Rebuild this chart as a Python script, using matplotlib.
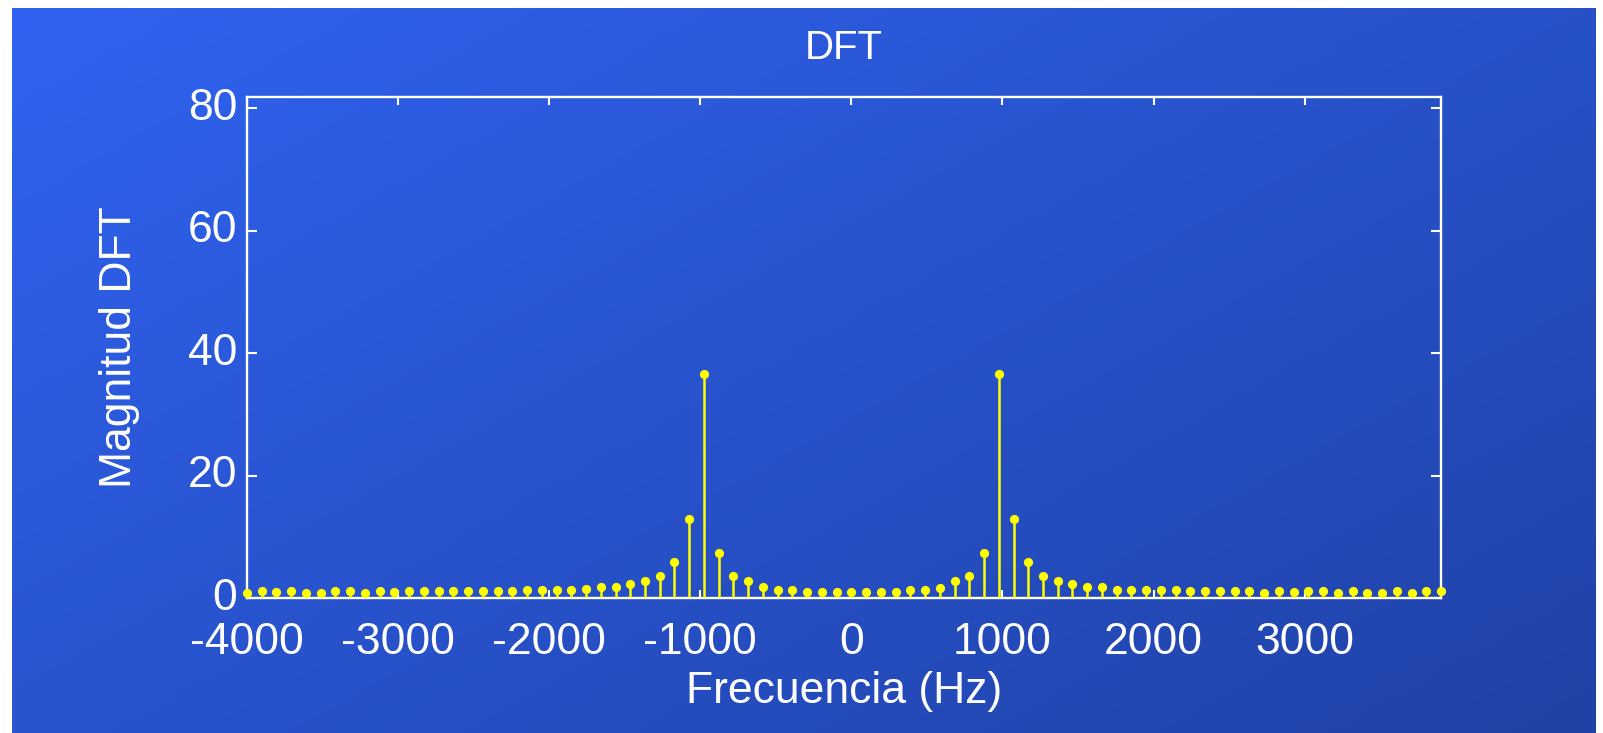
import numpy as np
import matplotlib
matplotlib.use("Agg")
import matplotlib.pyplot as plt

plt.rcParams['font.family'] = ['Liberation Sans', 'DejaVu Sans']
plt.rcParams['axes.unicode_minus'] = False

# ---- data ----
fs = 8000
N = 82
magnitude = [
    0.85, 1.2, 0.9, 1.2, 0.85, 0.85, 1.2, 1.2, 0.85, 1.2,
    0.9, 1.2, 1.2, 1.2, 1.2, 1.2, 1.2, 1.2, 1.2, 1.3,
    1.3, 1.3, 1.3, 1.4, 1.8, 1.8, 2.3, 2.8, 3.6, 5.9,
    12.9, 36.5, 7.35, 3.6, 2.8, 1.8, 1.35, 1.35, 1.0, 1.0,
    1.0, 1.0, 1.0, 1.0, 1.0, 1.3, 1.3, 1.7, 2.8, 3.6,
    7.35, 36.5, 12.9, 5.9, 3.6, 2.8, 2.3, 1.8, 1.8, 1.35,
    1.35, 1.35, 1.3, 1.3, 1.2, 1.2, 1.2, 1.2, 1.2, 0.85,
    1.2, 0.9, 1.2, 1.2, 0.85, 1.2, 0.85, 0.85, 1.2, 0.85,
    1.2, 1.2,
]
freq = (np.arange(N) - N // 2) * fs / N
xticks = [-4000, -3000, -2000, -1000, 0, 1000, 2000, 3000]
yticks = [0, 20, 40, 60, 80]
title = "DFT"
xlabel = "Frecuencia (Hz)"
ylabel = "Magnitud DFT"

W, H = 1603, 733
fig = plt.figure(figsize=(W / 100, H / 100), dpi=100)
fig.patch.set_facecolor('white')

# gradient background
bg = fig.add_axes([12 / W, 0, 1584 / W, 725 / H])
c0 = np.array([48, 99, 241]) / 255.0
c1 = np.array([32, 66, 166]) / 255.0
gy, gx = np.mgrid[0:1:300j, 0:1:600j]
t = (gx * 0.55 + gy * 0.45)
img = c0[None, None, :] * (1 - t[..., None]) + c1[None, None, :] * t[..., None]
bg.imshow(img, aspect='auto', extent=[0, 1, 0, 1], origin='upper')
bg.set_axis_off()
bg.set_zorder(-10)

# main axes
ax = fig.add_axes([247 / W, (H - 598) / H, (1441 - 247) / W, (598 - 97) / H])
ax.set_facecolor('none')

yellow = '#FFFF00'
ml, sl, bl = ax.stem(freq, magnitude, basefmt=' ')
plt.setp(sl, color=yellow, linewidth=1.8)
plt.setp(ml, color=yellow, marker='o', markersize=6.6, markeredgewidth=0)
ml.set_clip_on(False)
ml.set_zorder(5)
sl.set_zorder(4)
bl.set_visible(False)

ax.set_xlim(freq[0], freq[-1])
ax.set_ylim(0, 81.8)
ax.set_xticks(xticks)
ax.set_yticks(yticks)

for s in ax.spines.values():
    s.set_color('white')
    s.set_linewidth(1.7)

ax.tick_params(axis='both', direction='in', colors='white', width=1.5,
               top=True, right=True, labelsize=32)
ax.tick_params(axis='x', length=6, pad=17)
ax.tick_params(axis='y', length=7, pad=7)
for lab in ax.get_xticklabels() + ax.get_yticklabels():
    lab.set_color('white')
for lab in ax.get_yticklabels():
    lab.set_verticalalignment('center')

ax.set_xlabel(xlabel, fontsize=32, color='white', va='center')
ax.xaxis.set_label_coords(0.5, (598 - 691) / 501)
ax.set_ylabel(ylabel, fontsize=32, color='white', va='center')
ax.yaxis.set_label_coords((119 - 247) / 1194, 0.5)
ax.text(0.5, (598 - 48) / 501, title, transform=ax.transAxes,
        ha='center', va='center', fontsize=29, color='white')

fig.savefig('out.png', dpi=100, facecolor=fig.get_facecolor())
